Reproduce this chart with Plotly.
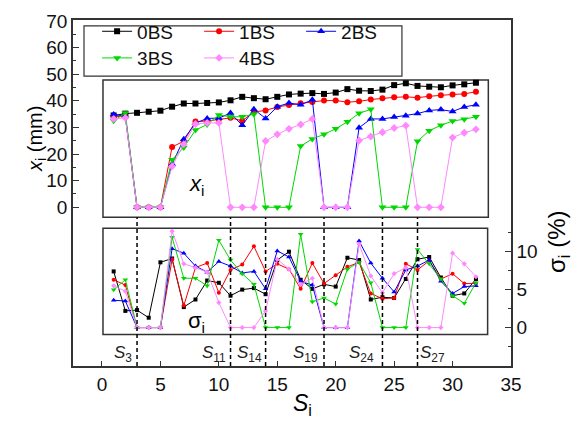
import plotly.graph_objects as go

# ---------------- data ----------------
S = list(range(1, 33))
series_names = ["0BS", "1BS", "2BS", "3BS", "4BS"]

x_0BS = [34.5, 35.2, 35.5, 35.9, 36.3, 37.8, 39.0, 39.0, 39.2, 39.4, 40.2, 41.5, 41.0, 40.6, 41.5, 42.4,
         42.7, 42.9, 42.6, 43.1, 44.4, 43.8, 43.7, 44.2, 45.9, 46.6, 45.6, 45.3, 45.1, 45.8, 46.2, 46.8]
x_1BS = [34.2, 34.0, 0, 0, 0, 22.7, 24.8, 32.2, 32.4, 33.0, 33.6, 32.5, 35.8, 36.4, 37.7, 38.4,
         39.1, 39.6, 40.1, 40.1, 39.5, 39.8, 40.5, 41.0, 41.3, 41.5, 41.2, 41.7, 42.1, 42.4, 42.6, 43.4]
x_2BS = [34.9, 34.2, 0, 0, 0, 16.3, 25.6, 31.6, 33.4, 33.5, 35.4, 30.8, 36.8, 33.4, 37.8, 39.2,
         38.5, 40.4, 0, 0, 0, 29.9, 33.2, 33.2, 33.9, 34.4, 35.2, 36.4, 36.7, 36.0, 37.7, 38.5]
x_3BS = [32.5, 35.4, 0, 0, 0, 17.9, 22.5, 29.0, 31.1, 34.7, 34.0, 34.0, 35.0, 0, 0, 0,
         23.0, 25.7, 27.4, 29.5, 32.1, 35.3, 36.8, 0, 0, 0, 24.8, 28.8, 30.8, 32.4, 33.1, 34.0]
x_4BS = [33.2, 33.6, 0, 0, 0, 15.4, 23.7, 31.3, 31.7, 31.7, 0, 0, 0, 24.9, 27.4, 29.5,
         31.1, 33.2, 0, 0, 0, 25.1, 26.6, 28.2, 29.8, 30.7, 0, 0, 0, 26.2, 28.0, 29.3]

sig_0BS = [7.4, 2.2, 2.3, 1.3, 8.6, 9.1, 2.7, 3.7, 6.2, 5.9, 4.2, 5.0, 5.2, 4.4, 8.9, 10.0,
           6.3, 5.1, 5.7, 5.4, 9.2, 8.9, 3.7, 4.0, 3.9, 6.4, 9.0, 9.3, 6.6, 4.2, 4.5, 6.4]
sig_1BS = [6.3, 5.6, 0, 0, 0, 9.0, 2.9, 7.9, 8.5, 4.6, 7.6, 8.3, 10.7, 7.4, 8.4, 7.7,
           5.1, 8.5, 5.8, 6.9, 8.0, 8.6, 4.5, 3.8, 3.9, 8.4, 7.6, 8.8, 6.4, 7.1, 5.8, 5.8]
sig_2BS = [3.6, 3.5, 0, 0, 0, 10.4, 9.8, 8.1, 7.3, 8.7, 8.1, 7.2, 7.4, 5.1, 10.1, 9.3,
           6.1, 5.6, 0, 0, 0, 11.4, 8.5, 6.5, 4.7, 7.6, 8.1, 8.9, 6.1, 4.5, 5.4, 5.5]
sig_3BS = [5.0, 6.3, 0, 0, 0, 11.9, 6.5, 6.5, 5.5, 11.5, 8.9, 7.1, 5.7, 0, 0, 0,
           12.3, 3.4, 3.9, 3.1, 7.7, 8.6, 5.9, 0, 0, 0, 10.3, 8.4, 6.4, 4.2, 3.2, 5.9]
sig_4BS = [5.5, 4.8, 0, 0, 0, 12.7, 8.4, 7.9, 7.3, 3.3, 0, 0, 0, 2.2, 9.0, 7.7,
           5.7, 6.5, 0, 0, 0, 11.0, 6.8, 4.6, 7.1, 7.9, 0, 0, 0, 9.8, 8.4, 6.7]

split_S = [3, 11, 14, 19, 24, 27]
split_labels = ["<i>S</i><sub>3</sub>", "<i>S</i><sub>11</sub>", "<i>S</i><sub>14</sub>",
                "<i>S</i><sub>19</sub>", "<i>S</i><sub>24</sub>", "<i>S</i><sub>27</sub>"]
split_label_x = [1.8, 9.6, 12.6, 17.4, 22.2, 28.3]

x_ticks = [0, 5, 10, 15, 20, 25, 30, 35]
y_ticks = [0, 10, 20, 30, 40, 50, 60, 70]
y2_ticks = [0, 5, 10]

# ---------------- styles ----------------
colors = ["#000000", "#FF0000", "#0000FF", "#00D800", "#FF88FF"]
symbols = ["square", "circle", "triangle-up", "triangle-down", "diamond"]
sizes = [6, 6, 7, 7, 6]
FONT = "Liberation Sans, Arial, sans-serif"
AX = "#333333"

xs = [x_0BS, x_1BS, x_2BS, x_3BS, x_4BS]
sigs = [sig_0BS, sig_1BS, sig_2BS, sig_3BS, sig_4BS]

fig = go.Figure()
for i, name in enumerate(series_names):
    fig.add_trace(go.Scatter(
        x=S, y=xs[i], mode="lines+markers", name=name,
        line=dict(color=colors[i], width=1),
        marker=dict(symbol=symbols[i], size=sizes[i], color=colors[i]),
        legend="legend" if i < 3 else "legend2",
        yaxis="y"))
for i, name in enumerate(series_names):
    fig.add_trace(go.Scatter(
        x=S, y=sigs[i], mode="lines+markers", name=name, showlegend=False,
        line=dict(color=colors[i], width=1),
        marker=dict(symbol=symbols[i], size=sizes[i] - 2, color=colors[i]),
        yaxis="y2"))

shapes = []
# inner panel boxes
shapes.append(dict(type="rect", xref="x", yref="y", x0=0.085, x1=33.06, y0=-3.7, y1=47.8,
                   line=dict(color=AX, width=1.5), layer="below"))
shapes.append(dict(type="rect", xref="x", yref="y2", x0=0.085, x1=33.0, y0=-0.9, y1=13.1,
                   line=dict(color=AX, width=1.5), layer="below"))
# legend box
shapes.append(dict(type="rect", xref="paper", yref="paper", x0=0.0251, x1=0.751, y0=0.8376, y1=0.983,
                   line=dict(color=AX, width=1.2)))
# dashed split lines
for s in split_S:
    shapes.append(dict(type="line", xref="x", yref="paper", x0=s, x1=s, y0=0, y1=0.430,
                       line=dict(color="#000000", width=1.5, dash="4px,3px")))

annotations = []
for lab, lx in zip(split_labels, split_label_x):
    annotations.append(dict(text=lab, x=lx, y=0.034, xref="x", yref="paper", showarrow=False,
                            font=dict(size=17, color="#222", family=FONT), xanchor="center", yanchor="middle"))
annotations.append(dict(text="<i>x</i><sub>i</sub>", x=8.1, y=8.5, xref="x", yref="y", showarrow=False,
                        font=dict(size=22, color="#000", family=FONT)))
annotations.append(dict(text="σ<sub>i</sub>", x=8.1, y=0.8, xref="x", yref="y2", showarrow=False,
                        font=dict(size=22, color="#000", family=FONT)))
annotations.append(dict(text="<i>S</i><sub>i</sub>", x=0.523, y=-0.16, xref="paper", yref="paper",
                        showarrow=False, font=dict(size=23, color="#000", family=FONT)))
annotations.append(dict(text="<i>x</i><sub>i</sub> (mm)", x=-0.118, y=0.757, xref="paper", yref="paper",
                        showarrow=False, textangle=-90, font=dict(size=20, color="#000", family=FONT)))
annotations.append(dict(text="σ<sub>i</sub> (%)", x=1.15, y=0.262, xref="paper", yref="paper",
                        showarrow=False, textangle=-90, font=dict(size=24, color="#000", family=FONT)))

fig.update_layout(
    width=579, height=421,
    margin=dict(l=73, r=68, t=15, b=55),
    paper_bgcolor="white", plot_bgcolor="white",
    font=dict(family=FONT, size=19, color="#111"),
    showlegend=True,
    legend=dict(orientation="h", x=0.055, y=0.967, xanchor="left", yanchor="middle",
                bgcolor="rgba(0,0,0,0)", borderwidth=0, entrywidth=57, entrywidthmode="pixels",
                font=dict(size=19, family=FONT, color="#111"), itemwidth=30),
    legend2=dict(orientation="h", x=0.055, y=0.89, xanchor="left", yanchor="middle",
                 bgcolor="rgba(0,0,0,0)", borderwidth=0, entrywidth=57, entrywidthmode="pixels",
                 font=dict(size=19, family=FONT, color="#111"), itemwidth=30),
    xaxis=dict(range=[-2.48, 35], tickvals=x_ticks, ticks="inside", ticklen=5, tickwidth=1.2,
               tickcolor=AX, showline=True, linecolor=AX, linewidth=1.5, mirror=True,
               showgrid=False, zeroline=False, tickfont=dict(size=19)),
    yaxis=dict(range=[-59.63, 70.37], tickvals=y_ticks, ticks="inside", ticklen=6, tickwidth=1.2,
               tickcolor=AX, showline=True, linecolor=AX, linewidth=1.5,
               showgrid=False, zeroline=False, tickfont=dict(size=19),
               minor=dict(tickvals=[5, 15, 25, 35, 45, 55, 65], ticks="inside", ticklen=3,
                          tickcolor=AX, showgrid=False)),
    yaxis2=dict(range=[-5.06, 40.52], overlaying="y", side="right", tickvals=y2_ticks,
                ticks="inside", ticklen=6, tickwidth=1.2, tickcolor=AX, showline=True,
                linecolor=AX, linewidth=1.5, showgrid=False, zeroline=False, tickfont=dict(size=19),
                minor=dict(tickvals=[-2.5, 2.5, 7.5, 12.5], ticks="inside", ticklen=3,
                           tickcolor=AX, showgrid=False)),
    shapes=shapes,
    annotations=annotations,
)

fig.write_html("out.html", config={"displayModeBar": False},
               post_script="document.body.style.margin='0px';")
